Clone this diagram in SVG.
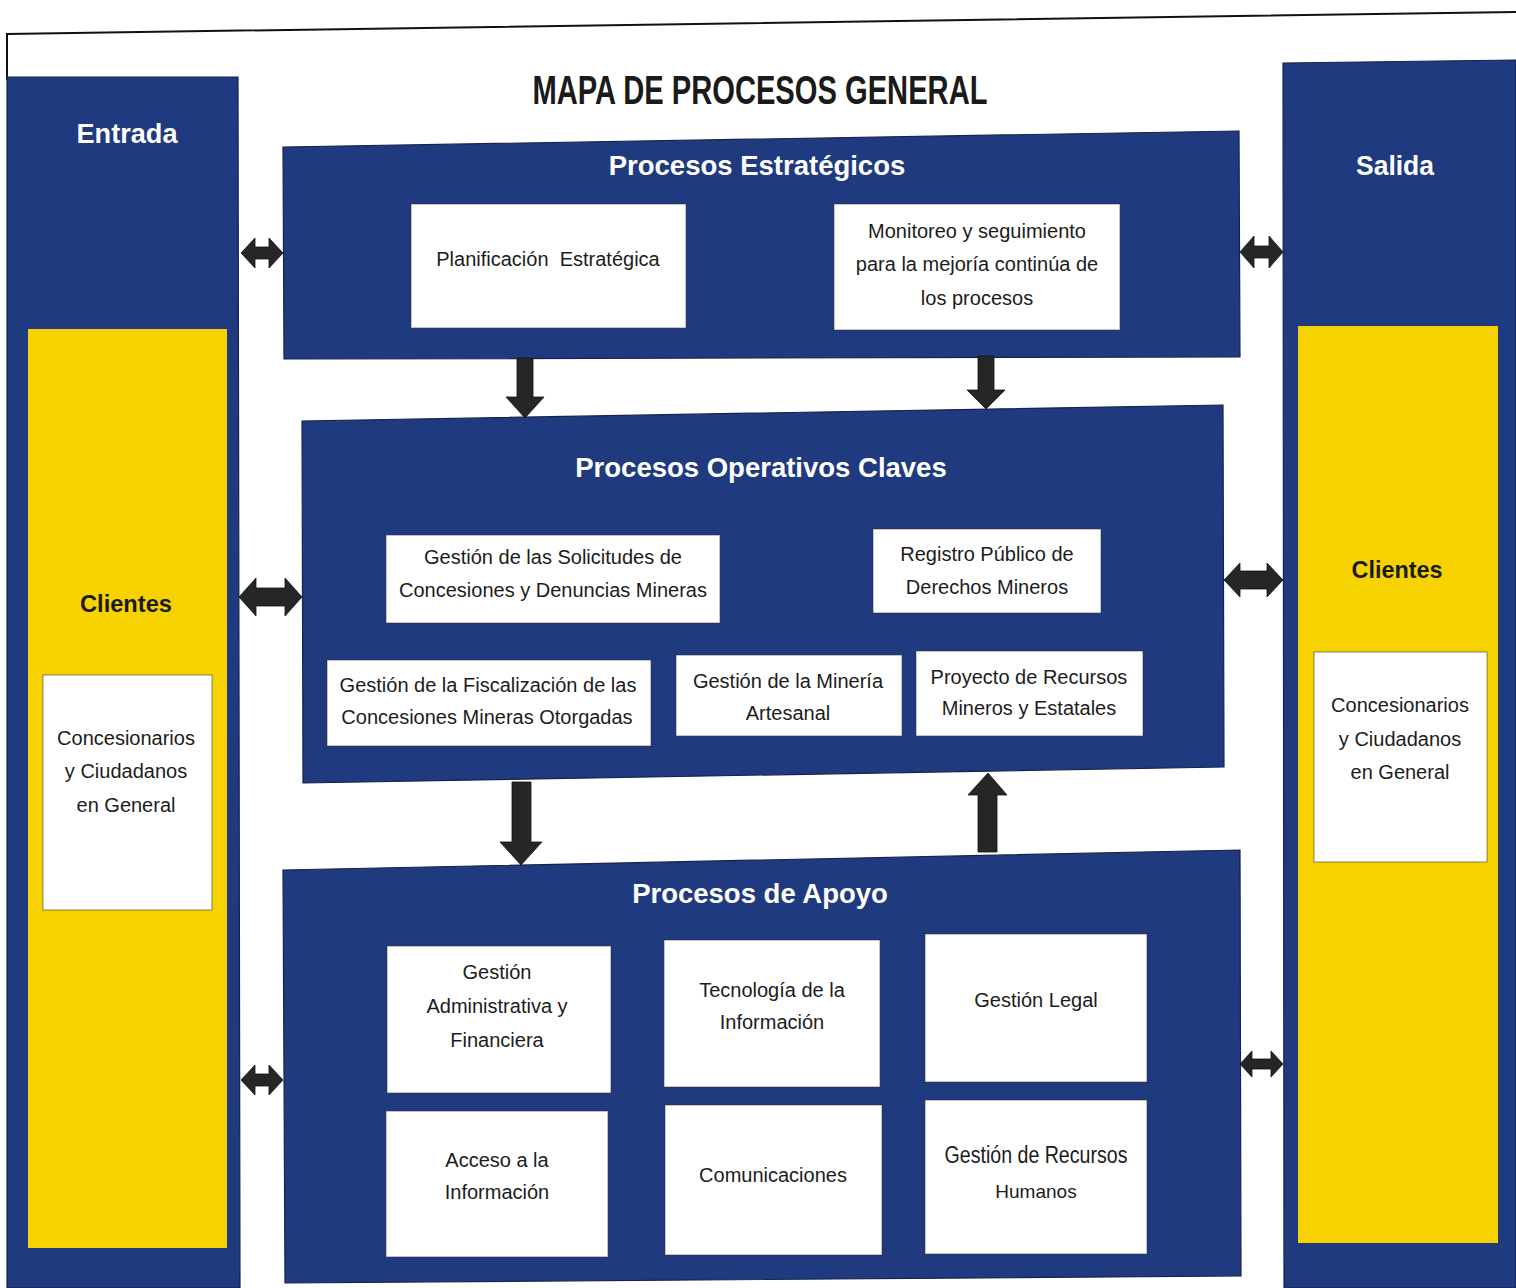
<svg xmlns="http://www.w3.org/2000/svg" width="1516" height="1288" viewBox="0 0 1516 1288">
<style>
.bg{fill:#ffffff}
.panel{fill:#1f3a7e;stroke:#16234d;stroke-width:1.2}
.yel{fill:#f6d200}
.box{fill:#ffffff;stroke:#2c2c2c;stroke-width:1;stroke-opacity:0.55}
.arr{fill:#262626;stroke:#111;stroke-width:0.8}
.frame{fill:none;stroke:#111;stroke-width:2}
.t{font-family:"Liberation Sans",Arial,sans-serif;font-size:20px;fill:#1c1c1c;text-anchor:middle}
.ph{font-family:"Liberation Sans",Arial,sans-serif;font-size:27.5px;font-weight:bold;fill:#ffffff;text-anchor:middle}
.side{font-family:"Liberation Sans",Arial,sans-serif;font-size:28px;font-weight:bold;fill:#ffffff;text-anchor:middle}
.cli{font-family:"Liberation Sans",Arial,sans-serif;font-size:24px;font-weight:bold;fill:#1a1a1a;text-anchor:middle}
.title{font-family:"Liberation Sans",Arial,sans-serif;font-size:40px;font-weight:bold;fill:#1a1a1a;text-anchor:middle}
</style>
<rect class="bg" x="0" y="0" width="1516" height="1288"/>
<polyline class="frame" points="7,80 7,34 1516,12"/>
<text class="title" x="760" y="104" textLength="455" lengthAdjust="spacingAndGlyphs">MAPA DE PROCESOS GENERAL</text>

<g id="entrada">
<polygon class="panel" points="7,77 238,77 240,1288 7,1288"/>
<text class="side" x="127" y="143" textLength="101" lengthAdjust="spacingAndGlyphs">Entrada</text>
<rect class="yel" x="28" y="329" width="199" height="919"/>
<text class="cli" x="126" y="612" textLength="92" lengthAdjust="spacingAndGlyphs">Clientes</text>
<rect class="box" x="43" y="675" width="169" height="235"/>
<text class="t" x="126" y="745">Concesionarios</text>
<text class="t" x="126" y="778">y Ciudadanos</text>
<text class="t" x="126" y="812">en General</text>
</g>

<g id="salida">
<polygon class="panel" points="1283,63 1516,60 1516,1288 1284,1288"/>
<text class="side" x="1395" y="175" textLength="78" lengthAdjust="spacingAndGlyphs">Salida</text>
<rect class="yel" x="1298" y="326" width="200" height="917"/>
<text class="cli" x="1397" y="578" textLength="91" lengthAdjust="spacingAndGlyphs">Clientes</text>
<rect class="box" x="1314" y="652" width="173" height="210"/>
<text class="t" x="1400" y="712">Concesionarios</text>
<text class="t" x="1400" y="746">y Ciudadanos</text>
<text class="t" x="1400" y="779">en General</text>
</g>

<g id="estrategicos">
<polygon class="panel" points="283,147 1239,131 1240,357 284,359"/>
<text class="ph" x="757" y="175">Procesos Estratégicos</text>
<g id="planificacion">
<rect class="box" x="411" y="204" width="275" height="124"/>
<text class="t" x="548" y="266" xml:space="preserve">Planificación  Estratégica</text>
</g>
<g id="monitoreo">
<rect class="box" x="834" y="204" width="286" height="126"/>
<text class="t" x="977" y="238">Monitoreo y seguimiento</text>
<text class="t" x="977" y="271">para la mejoría continúa de</text>
<text class="t" x="977" y="305">los procesos</text>
</g>
</g>

<g id="operativos">
<polygon class="panel" points="302,421 1223,405 1224,767 303,783"/>
<text class="ph" x="761" y="477">Procesos Operativos Claves</text>
<g id="solicitudes">
<rect class="box" x="386" y="535" width="334" height="88"/>
<text class="t" x="553" y="564">Gestión de las Solicitudes de</text>
<text class="t" x="553" y="597">Concesiones y Denuncias Mineras</text>
</g>
<g id="registro">
<rect class="box" x="873" y="529" width="228" height="84"/>
<text class="t" x="987" y="561">Registro Público de</text>
<text class="t" x="987" y="594">Derechos Mineros</text>
</g>
<g id="fiscalizacion">
<rect class="box" x="327" y="660" width="324" height="86"/>
<text class="t" x="488" y="692">Gestión de la Fiscalización de las</text>
<text class="t" x="487" y="724">Concesiones Mineras Otorgadas</text>
</g>
<g id="mineria">
<rect class="box" x="676" y="655" width="226" height="81"/>
<text class="t" x="788" y="688">Gestión de la Minería</text>
<text class="t" x="788" y="720">Artesanal</text>
</g>
<g id="proyecto">
<rect class="box" x="916" y="651" width="227" height="85"/>
<text class="t" x="1029" y="684">Proyecto de Recursos</text>
<text class="t" x="1029" y="715">Mineros y Estatales</text>
</g>
</g>

<g id="apoyo">
<polygon class="panel" points="283,870 1240,850 1241,1276 285,1283"/>
<text class="ph" x="760" y="903">Procesos de Apoyo</text>
<g id="administrativa">
<rect class="box" x="387" y="946" width="224" height="147"/>
<text class="t" x="497" y="979">Gestión</text>
<text class="t" x="497" y="1013">Administrativa y</text>
<text class="t" x="497" y="1047">Financiera</text>
</g>
<g id="tecnologia">
<rect class="box" x="664" y="940" width="216" height="147"/>
<text class="t" x="772" y="997">Tecnología de la</text>
<text class="t" x="772" y="1029">Información</text>
</g>
<g id="legal">
<rect class="box" x="925" y="934" width="222" height="148"/>
<text class="t" x="1036" y="1007">Gestión Legal</text>
</g>
<g id="acceso">
<rect class="box" x="386" y="1111" width="222" height="146"/>
<text class="t" x="497" y="1167">Acceso a la</text>
<text class="t" x="497" y="1199">Información</text>
</g>
<g id="comunicaciones">
<rect class="box" x="665" y="1105" width="217" height="150"/>
<text class="t" x="773" y="1182">Comunicaciones</text>
</g>
<g id="rrhh">
<rect class="box" x="925" y="1100" width="222" height="154"/>
<text class="t" x="1036" y="1163" style="font-size:23px" textLength="183" lengthAdjust="spacingAndGlyphs">Gestión de Recursos</text>
<text class="t" x="1036" y="1198" style="font-size:19px">Humanos</text>
</g>
</g>

<g id="connectors">
<polygon class="arr" points="241,253 255,238 255,247 269,247 269,238 283,253 269,268 269,259 255,259 255,268"/>
<polygon class="arr" points="1240,252 1254,236 1254,246 1269,246 1269,236 1283,252 1269,268 1269,258 1254,258 1254,268"/>
<polygon class="arr" points="239,597 256,578 256,588 285,588 285,578 302,597 285,616 285,606 256,606 256,616"/>
<polygon class="arr" points="1224,580 1240,563 1240,571 1267,571 1267,563 1283,580 1267,597 1267,589 1240,589 1240,597"/>
<polygon class="arr" points="241,1080 255,1065 255,1074 269,1074 269,1065 283,1080 269,1095 269,1086 255,1086 255,1095"/>
<polygon class="arr" points="1240,1064 1252,1051 1252,1059 1271,1059 1271,1051 1283,1064 1271,1077 1271,1069 1252,1069 1252,1077"/>
<polygon class="arr" points="517,358 533,358 533,397 544,397 525,418 506,397 517,397"/>
<polygon class="arr" points="978,356 994,356 994,390 1005,390 986,409 967,390 978,390"/>
<polygon class="arr" points="512,782 531,782 531,842 542,842 521,865 500,842 512,842"/>
<polygon class="arr" points="978,852 997,852 997,795 1007,795 988,773 968,795 978,795"/>
</g>
</svg>
